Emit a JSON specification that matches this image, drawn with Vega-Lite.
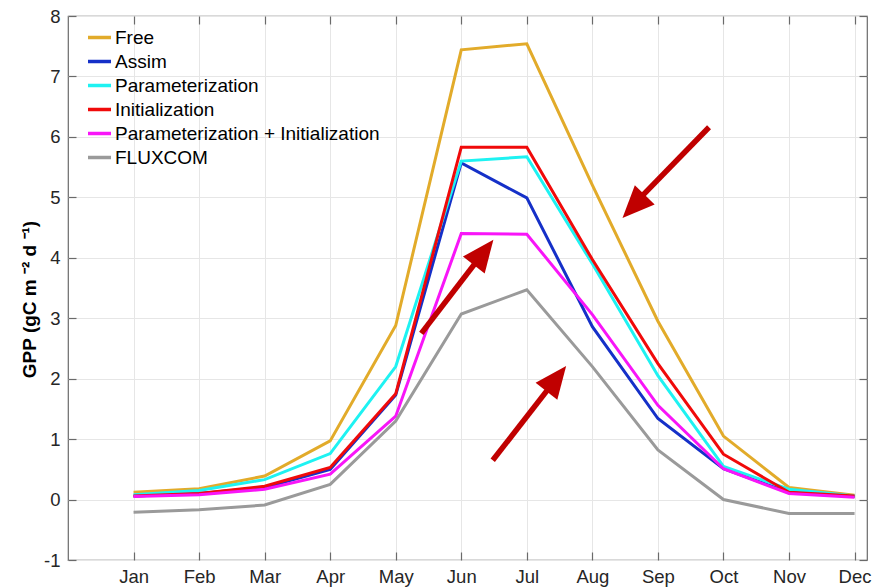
{
  "$schema": "https://vega.github.io/schema/vega-lite/v6.json",
  "width": 799,
  "height": 544,
  "autosize": {"type": "none"},
  "padding": {"left": 68, "top": 16, "right": 5, "bottom": 27},
  "background": "white",
  "config": {
    "font": "Liberation Sans",
    "view": {"stroke": "#6a6a6a", "strokeWidth": 1.2},
    "axis": {
      "labelFont": "Liberation Sans",
      "labelFontSize": 18.5,
      "labelColor": "#262626",
      "domainColor": "#6a6a6a",
      "tickColor": "#6a6a6a",
      "tickWidth": 1.2,
      "gridColor": "#e6e6e6",
      "gridWidth": 1
    }
  },
  "datasets": {
    "gpp": [
      {"month": 1, "model": "Free", "gpp": 0.12},
      {"month": 2, "model": "Free", "gpp": 0.18},
      {"month": 3, "model": "Free", "gpp": 0.39},
      {"month": 4, "model": "Free", "gpp": 0.97},
      {"month": 5, "model": "Free", "gpp": 2.88},
      {"month": 6, "model": "Free", "gpp": 7.44},
      {"month": 7, "model": "Free", "gpp": 7.54},
      {"month": 8, "model": "Free", "gpp": 5.2},
      {"month": 9, "model": "Free", "gpp": 2.95},
      {"month": 10, "model": "Free", "gpp": 1.05},
      {"month": 11, "model": "Free", "gpp": 0.2},
      {"month": 12, "model": "Free", "gpp": 0.07},
      {"month": 1, "model": "Assim", "gpp": 0.06},
      {"month": 2, "model": "Assim", "gpp": 0.1},
      {"month": 3, "model": "Assim", "gpp": 0.2},
      {"month": 4, "model": "Assim", "gpp": 0.5},
      {"month": 5, "model": "Assim", "gpp": 1.73},
      {"month": 6, "model": "Assim", "gpp": 5.57},
      {"month": 7, "model": "Assim", "gpp": 4.99},
      {"month": 8, "model": "Assim", "gpp": 2.86},
      {"month": 9, "model": "Assim", "gpp": 1.34},
      {"month": 10, "model": "Assim", "gpp": 0.51},
      {"month": 11, "model": "Assim", "gpp": 0.12},
      {"month": 12, "model": "Assim", "gpp": 0.05},
      {"month": 1, "model": "Parameterization", "gpp": 0.08},
      {"month": 2, "model": "Parameterization", "gpp": 0.15},
      {"month": 3, "model": "Parameterization", "gpp": 0.33},
      {"month": 4, "model": "Parameterization", "gpp": 0.76},
      {"month": 5, "model": "Parameterization", "gpp": 2.2},
      {"month": 6, "model": "Parameterization", "gpp": 5.6},
      {"month": 7, "model": "Parameterization", "gpp": 5.67},
      {"month": 8, "model": "Parameterization", "gpp": 3.9},
      {"month": 9, "model": "Parameterization", "gpp": 2.05},
      {"month": 10, "model": "Parameterization", "gpp": 0.55},
      {"month": 11, "model": "Parameterization", "gpp": 0.17},
      {"month": 12, "model": "Parameterization", "gpp": 0.06},
      {"month": 1, "model": "Initialization", "gpp": 0.06},
      {"month": 2, "model": "Initialization", "gpp": 0.1},
      {"month": 3, "model": "Initialization", "gpp": 0.22},
      {"month": 4, "model": "Initialization", "gpp": 0.53},
      {"month": 5, "model": "Initialization", "gpp": 1.75},
      {"month": 6, "model": "Initialization", "gpp": 5.83},
      {"month": 7, "model": "Initialization", "gpp": 5.83},
      {"month": 8, "model": "Initialization", "gpp": 3.97},
      {"month": 9, "model": "Initialization", "gpp": 2.25},
      {"month": 10, "model": "Initialization", "gpp": 0.75},
      {"month": 11, "model": "Initialization", "gpp": 0.12},
      {"month": 12, "model": "Initialization", "gpp": 0.06},
      {"month": 1, "model": "Parameterization + Initialization", "gpp": 0.05},
      {"month": 2, "model": "Parameterization + Initialization", "gpp": 0.08},
      {"month": 3, "model": "Parameterization + Initialization", "gpp": 0.17},
      {"month": 4, "model": "Parameterization + Initialization", "gpp": 0.42},
      {"month": 5, "model": "Parameterization + Initialization", "gpp": 1.38},
      {"month": 6, "model": "Parameterization + Initialization", "gpp": 4.4},
      {"month": 7, "model": "Parameterization + Initialization", "gpp": 4.39},
      {"month": 8, "model": "Parameterization + Initialization", "gpp": 3.06},
      {"month": 9, "model": "Parameterization + Initialization", "gpp": 1.56},
      {"month": 10, "model": "Parameterization + Initialization", "gpp": 0.51},
      {"month": 11, "model": "Parameterization + Initialization", "gpp": 0.1},
      {"month": 12, "model": "Parameterization + Initialization", "gpp": 0.04},
      {"month": 1, "model": "FLUXCOM", "gpp": -0.21},
      {"month": 2, "model": "FLUXCOM", "gpp": -0.17},
      {"month": 3, "model": "FLUXCOM", "gpp": -0.09},
      {"month": 4, "model": "FLUXCOM", "gpp": 0.25},
      {"month": 5, "model": "FLUXCOM", "gpp": 1.3},
      {"month": 6, "model": "FLUXCOM", "gpp": 3.07},
      {"month": 7, "model": "FLUXCOM", "gpp": 3.47},
      {"month": 8, "model": "FLUXCOM", "gpp": 2.2},
      {"month": 9, "model": "FLUXCOM", "gpp": 0.82},
      {"month": 10, "model": "FLUXCOM", "gpp": 0.0},
      {"month": 11, "model": "FLUXCOM", "gpp": -0.23},
      {"month": 12, "model": "FLUXCOM", "gpp": -0.23}
    ],
    "arrows": [
      {"x": 9.78, "y": 6.16, "x2": 8.63, "y2": 4.88, "tx": 8.46, "ty": 4.66, "angle": 224},
      {"x": 5.39, "y": 2.75, "x2": 6.34, "y2": 4.09, "tx": 6.49, "ty": 4.3, "angle": 37.7},
      {"x": 6.48, "y": 0.65, "x2": 7.45, "y2": 2.0, "tx": 7.6, "ty": 2.21, "angle": 38}
    ]
  },
  "layer": [
    {
      "data": {"name": "gpp"},
      "mark": {"type": "line", "strokeWidth": 3, "clip": true},
      "encoding": {
        "x": {
          "field": "month", "type": "quantitative",
          "scale": {"domain": [0, 12.19], "nice": false, "zero": false},
          "axis": {
            "title": null,
            "values": [1,2,3,4,5,6,7,8,9,10,11,12],
            "labelExpr": "['Jan','Feb','Mar','Apr','May','Jun','Jul','Aug','Sep','Oct','Nov','Dec'][datum.value-1]",
            "tickSize": -8,
            "labelPadding": 15,
            "grid": true,
            "domain": false
          }
        },
        "y": {
          "field": "gpp", "type": "quantitative",
          "scale": {"domain": [-1, 8], "nice": false, "zero": false},
          "axis": {
            "title": "GPP (gC m ⁻² d ⁻¹)",
            "titleFont": "Liberation Sans",
            "titleFontSize": 19,
            "titleFontWeight": "bold",
            "titleColor": "#000000",
            "titlePadding": 4,
            "titleY": 283,
            "values": [-1,0,1,2,3,4,5,6,7,8],
            "labelExpr": "datum.value < 0 ? '-' + abs(datum.value) : '' + datum.value",
            "tickSize": -8,
            "labelPadding": 16,
            "grid": true,
            "domain": false
          }
        },
        "color": {
          "field": "model", "type": "nominal",
          "sort": ["Free", "Assim", "Parameterization", "Initialization", "Parameterization + Initialization", "FLUXCOM"],
          "scale": {
            "domain": ["Free", "Assim", "Parameterization", "Initialization", "Parameterization + Initialization", "FLUXCOM"],
            "range": ["#E2AB2A", "#1530C8", "#1EF2F2", "#F00A0A", "#F815F8", "#9A9A9A"]
          },
          "legend": {
            "orient": "none",
            "legendX": 18,
            "legendY": 8,
            "title": null,
            "symbolType": "stroke",
            "symbolSize": 529,
            "symbolStrokeWidth": 3.5,
            "labelFontSize": 19,
            "labelFont": "Liberation Sans",
            "labelColor": "#000000",
            "labelLimit": 500,
            "labelOffset": 2,
            "rowPadding": -0.8,
            "padding": 0,
            "symbolOffset": 0
          }
        },
        "order": {"field": "month", "type": "quantitative"}
      }
    },
    {
      "data": {"name": "arrows"},
      "mark": {"type": "rule", "color": "#C00000", "strokeWidth": 5.5},
      "encoding": {
        "x": {"field": "x", "type": "quantitative", "axis": null},
        "y": {"field": "y", "type": "quantitative", "axis": null},
        "x2": {"field": "x2"},
        "y2": {"field": "y2"}
      }
    },
    {
      "data": {"name": "arrows"},
      "mark": {"type": "point", "shape": "M0,0L-0.43,1L0.43,1Z", "filled": true, "color": "#C00000", "opacity": 1, "size": 4096, "strokeWidth": 0},
      "encoding": {
        "x": {"field": "tx", "type": "quantitative", "axis": null},
        "y": {"field": "ty", "type": "quantitative", "axis": null},
        "angle": {"field": "angle", "type": "quantitative", "scale": null}
      }
    },
    {
      "data": {"values": [{"a": 0}]},
      "mark": {"type": "rule", "opacity": 0},
      "encoding": {
        "x": {"datum": 1, "type": "quantitative", "axis": {"orient": "top", "values": [1,2,3,4,5,6,7,8,9,10,11,12], "labels": false, "tickSize": -8, "grid": false, "domain": false, "title": null}},
        "y": {"datum": 0, "type": "quantitative", "axis": {"orient": "right", "values": [-1,0,1,2,3,4,5,6,7,8], "labels": false, "tickSize": -8, "grid": false, "domain": false, "title": null}}
      }
    }
  ],
  "resolve": {"axis": {"x": "independent", "y": "independent"}}
}
